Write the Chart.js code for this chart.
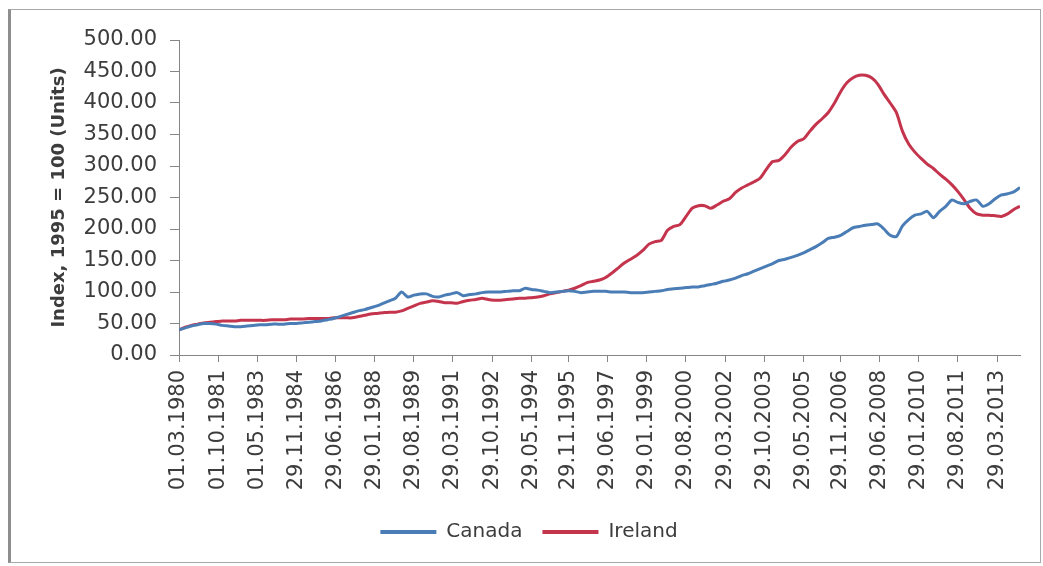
<!DOCTYPE html>
<html>
<head>
<meta charset="utf-8">
<title>House price index: Canada and Ireland</title>
<script src="https://cdn.jsdelivr.net/npm/chart.js@4/dist/chart.umd.min.js"></script>
<style>
  html, body { margin: 0; padding: 0; background: #ffffff; }
  #frame {
    position: absolute; left: 8px; top: 9px;
    width: 1029px; height: 552px;
    border: 1px solid #a8a8a8; border-left: 3px solid #8e8e8e;
    background: #ffffff;
  }
  canvas { display: block; }
</style>
</head>
<body>
<div id="frame"><canvas id="chart" width="1029" height="552"></canvas></div>
<script>
// Quarterly index values, 1995 = 100, from Q1 1980 to Q1 2014
const canada = [
  40, 43, 46, 48,   50, 50, 49, 47,   46, 45, 45, 46,   47, 48, 48, 49,
  49, 49, 50, 50,   51, 52, 53, 54,   56, 58, 61, 64,   67, 70, 72, 75,
  78, 82, 86, 90,   100, 92, 95, 97,  97, 93, 92, 95,   97, 99, 94, 96,
  97, 99, 100, 100, 100, 101, 102, 102, 106, 104, 103, 101, 99, 100, 101, 102,
  101, 99, 100, 101, 101, 101, 100, 100, 100, 99, 99, 99, 100, 101, 102, 104,
  105, 106, 107, 108, 108, 110, 112, 114, 117, 119, 122, 126, 129, 133, 137, 141,
  145, 150, 152, 155, 158, 162, 167, 172, 178, 185, 187, 190, 196, 202, 204, 206,
  207, 208, 200, 190, 188, 205, 215, 222, 224, 228, 218, 228, 236, 246, 242, 240,
  244, 246, 236, 240, 248, 254, 256, 259, 266
];
const ireland = [
  40, 44, 47, 49,   51, 52, 53, 54,   54, 54, 55, 55,   55, 55, 55, 56,
  56, 56, 57, 57,   57, 58, 58, 58,   58, 59, 59, 59,   59, 61, 63, 65,
  66, 67, 68, 68,   70, 74, 78, 82,   84, 86, 85, 83,   83, 82, 85, 87,
  88, 90, 88, 87,   87, 88, 89, 90,   90, 91, 92, 94,   97, 99, 101, 103,
  106, 110, 115, 117, 119, 123, 130, 138, 146, 152, 158, 166, 176, 180, 182, 198,
  204, 207, 220, 233, 237, 237, 233, 238, 244, 248, 258, 265, 270, 275, 281, 295,
  307, 309, 318, 330, 339, 343, 355, 366, 375, 385, 400, 418, 432, 440, 444, 444,
  440, 430, 414, 400, 385, 355, 335, 322, 312, 303, 296, 287, 279, 270, 259, 246,
  232, 224, 222, 222, 221, 220, 224, 231, 236
];
// Dates printed under the time axis
const tickLabels = [
  '01.03.1980', '01.10.1981', '01.05.1983', '29.11.1984', '29.06.1986', '29.01.1988',
  '29.08.1989', '29.03.1991', '29.10.1992', '29.05.1994', '29.11.1995', '29.06.1997',
  '29.01.1999', '29.08.2000', '29.03.2002', '29.10.2003', '29.05.2005', '29.11.2006',
  '29.06.2008', '29.01.2010', '29.08.2011', '29.03.2013'
];
const yTicks = [0, 50, 100, 150, 200, 250, 300, 350, 400, 450, 500];

// Time is measured in months from 01.03.1980; one observation per quarter
const monthsFromStart = s => {
  const [d, m, y] = s.split('.').map(Number);
  return (y - 1980) * 12 + (m - 3) + (d - 1) / 30.44;
};
const tickMonths = tickLabels.map(monthsFromStart);
const toPoints = arr => arr.map((v, i) => ({ x: i * 3, y: v }));
const lastMonth = (canada.length - 1) * 3;

const textColor = '#3c3c3c';
const axisColor = '#868686';
const font = { family: '"DejaVu Sans", sans-serif', size: 21 };

new Chart(document.getElementById('chart'), {
  type: 'line',
  data: {
    datasets: [
      { label: 'Canada', data: toPoints(canada), borderColor: '#4A7DB5', backgroundColor: '#4A7DB5',
        borderWidth: 3, pointRadius: 0, tension: 0.25, fill: false },
      { label: 'Ireland', data: toPoints(ireland), borderColor: '#C4344C', backgroundColor: '#C4344C',
        borderWidth: 3, pointRadius: 0, tension: 0.25, fill: false }
    ]
  },
  options: {
    responsive: false,
    animation: false,
    events: [],
    layout: { padding: { top: 30, right: 20, bottom: 10, left: 27 } },
    scales: {
      x: {
        type: 'linear',
        min: 0,
        max: lastMonth,
        afterBuildTicks: scale => { scale.ticks = tickMonths.map(v => ({ value: v })); },
        afterFit: scale => { scale.height = 147; },
        ticks: {
          autoSkip: false, minRotation: 90, maxRotation: 90, padding: 8,
          color: textColor, font: font,
          callback: (v, i) => tickLabels[i]
        },
        grid: { drawOnChartArea: false, tickLength: 7, color: axisColor },
        border: { color: axisColor, width: 1 }
      },
      y: {
        min: 0,
        max: 500,
        afterBuildTicks: scale => { scale.ticks = yTicks.map(v => ({ value: v })); },
        afterFit: scale => { scale.width = 141; },
        ticks: { color: textColor, font: font, padding: 13, callback: v => v.toFixed(2) },
        grid: { drawOnChartArea: false, tickLength: 9, color: axisColor },
        border: { color: axisColor, width: 1 },
        title: {
          display: true,
          text: 'Index, 1995 = 100 (Units)',
          color: textColor,
          font: { family: '"DejaVu Sans", sans-serif', size: 18, weight: 'bold' },
          padding: { top: 11, bottom: 0 }
        }
      }
    },
    plugins: {
      tooltip: { enabled: false },
      legend: {
        position: 'bottom',
        labels: {
          color: textColor,
          font: { family: '"DejaVu Sans", sans-serif', size: 20 },
          boxWidth: 56,
          boxHeight: 4,
          padding: 20,
          generateLabels: chart => Chart.defaults.plugins.legend.labels.generateLabels(chart)
            .map(item => Object.assign(item, { lineWidth: 0 }))
        }
      }
    }
  }
});
</script>
</body>
</html>
